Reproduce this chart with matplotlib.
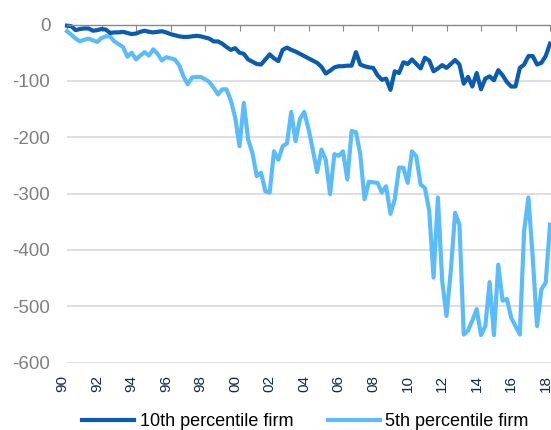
import numpy as np
import matplotlib
matplotlib.use("Agg")
import matplotlib.pyplot as plt
import matplotlib.transforms as mtransforms

plt.rcParams['font.family'] = ['Liberation Sans', 'DejaVu Sans']

# quarterly readings, 1990Q1 .. 2018Q1
start_year = 1990
p10_firm = [
    -2, -3, -10, -8,          # 1990
    -7, -7, -11, -10,         # 1991
    -8, -9, -15, -14,         # 1992
    -14, -13, -15, -17,       # 1993
    -16, -13, -11, -13,       # 1994
    -14, -13, -12, -14,       # 1995
    -17, -19, -21, -22,       # 1996
    -22, -21, -20, -21,       # 1997
    -23, -25, -30, -30,       # 1998
    -34, -40, -45, -42,       # 1999
    -50, -52, -62, -66,       # 2000
    -70, -71, -62, -53,       # 2001
    -60, -65, -45, -41,       # 2002
    -45, -48, -52, -56,       # 2003
    -60, -64, -68, -75,       # 2004
    -87, -82, -76, -74,       # 2005
    -74, -73, -73, -49,       # 2006
    -71, -74, -76, -77,       # 2007
    -90, -98, -96, -116,      # 2008
    -83, -86, -67, -70,       # 2009
    -62, -70, -78, -59,       # 2010
    -64, -83, -78, -72,       # 2011
    -77, -70, -63, -71,       # 2012
    -105, -93, -110, -86,     # 2013
    -115, -96, -92, -99,      # 2014
    -81, -90, -102, -110,     # 2015
    -110, -77, -71, -56,      # 2016
    -56, -71, -68, -56,       # 2017
    -34,                      # 2018
]
p5_firm = [
    -12, -18, -25, -30,       # 1990
    -27, -25, -28, -31,       # 1991
    -24, -21, -21, -30,       # 1992
    -35, -40, -57, -50,       # 1993
    -62, -55, -49, -55,       # 1994
    -44, -52, -64, -58,       # 1995
    -60, -62, -72, -92,       # 1996
    -106, -94, -93, -93,      # 1997
    -97, -102, -112, -124,    # 1998
    -115, -115, -135, -165,   # 1999
    -216, -139, -204, -228,   # 2000
    -269, -263, -296, -298,   # 2001
    -225, -240, -216, -211,   # 2002
    -155, -207, -168, -155,   # 2003
    -185, -222, -262, -222,   # 2004
    -240, -301, -230, -233,   # 2005
    -225, -275, -189, -191,   # 2006
    -230, -310, -279, -280,   # 2007
    -281, -298, -287, -336,   # 2008
    -310, -254, -254, -281,   # 2009
    -225, -234, -284, -290,   # 2010
    -331, -449, -307, -455,   # 2011
    -517, -437, -334, -355,   # 2012
    -550, -543, -525, -505,   # 2013
    -551, -535, -457, -551,   # 2014
    -426, -490, -487, -520,   # 2015
    -535, -550, -366, -307,   # 2016
    -414, -535, -470, -458,   # 2017
    -355,                     # 2018
]
tick_years = list(range(1990, 2019, 2))
tick_labels = ['%02d' % (y % 100) for y in tick_years]
y_ticks = [0, -100, -200, -300, -400, -500, -600]

dark_blue = '#0a5cb0'
light_blue = '#5bbcfb'

t = start_year + np.arange(len(p10_firm)) / 4.0

fig = plt.figure(figsize=(5.51, 4.30), dpi=100)
ax = fig.add_axes([0.1216, 0.1565, 0.8784, 0.7865])

for yv in y_ticks[1:]:
    ax.axhline(yv, color='#d9d9d9', lw=1.2, zorder=1)

ax.plot(t, p10_firm, color=dark_blue, lw=3, label='10th percentile firm',
        clip_on=False, zorder=3, solid_joinstyle='round')
ax.plot(t, p5_firm, color=light_blue, lw=3, label='5th percentile firm',
        clip_on=False, zorder=2, solid_joinstyle='round')

ax.set_xlim(1990, 1990 + 484 / 17.25)
ax.set_ylim(-600, 0)

for s in ['left', 'right', 'bottom']:
    ax.spines[s].set_visible(False)
ax.spines['top'].set_color('#898989')
ax.spines['top'].set_linewidth(1.0)
ax.spines['top'].set_zorder(4)

ax.set_yticks(y_ticks)
ax.set_yticklabels([str(v) for v in y_ticks])
ax.tick_params(axis='y', length=0, pad=12, labelsize=13.5, labelcolor='#7f7f7f')

ax.set_xticks(tick_years)
ax.set_xticklabels(tick_labels, rotation=90)
ax.tick_params(axis='x', top=True, bottom=False, labelbottom=True, labeltop=False,
               direction='in', length=4, color='#898989', pad=9,
               labelsize=11, labelcolor='#14284b')
shift = mtransforms.ScaledTranslation(-4.5 / 100, 0, fig.dpi_scale_trans)
for lab in ax.get_xticklabels():
    lab.set_transform(lab.get_transform() + shift)

fig.legend(loc='center left', bbox_to_anchor=(0.149, 0.02), ncol=2, frameon=False,
           fontsize=13, handlelength=2.9, handletextpad=0.3, columnspacing=1.9,
           borderaxespad=0, borderpad=0)

fig.savefig('out.png', dpi=100)
